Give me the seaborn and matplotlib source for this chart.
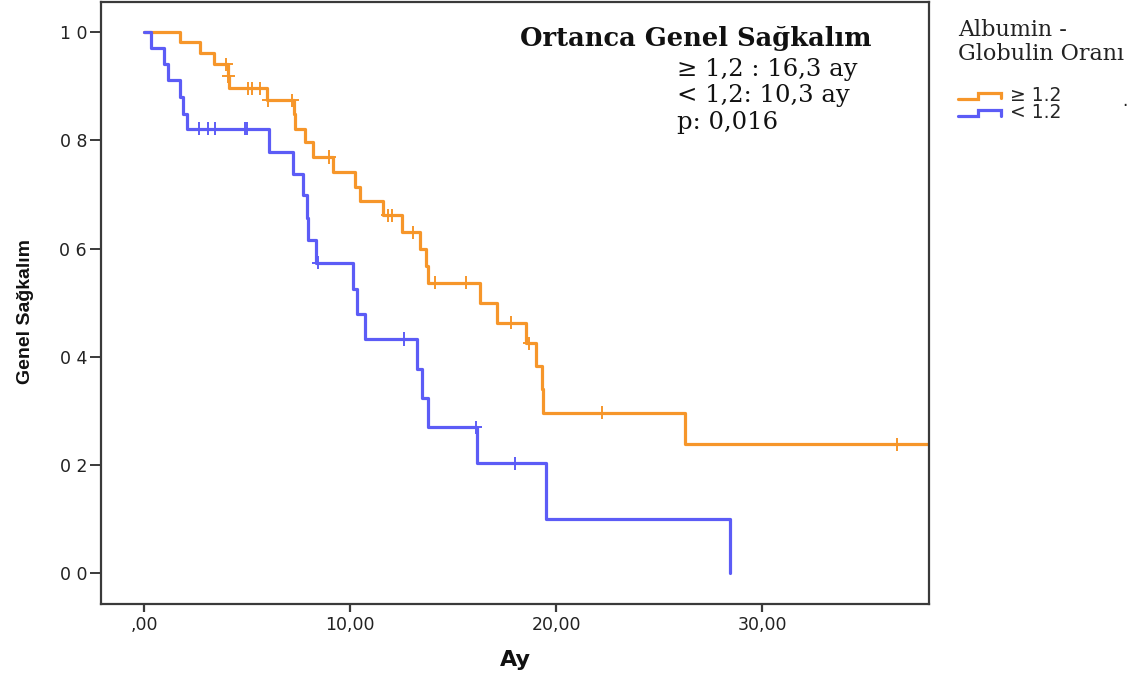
import numpy as np
import pandas as pd
import matplotlib
matplotlib.use("Agg")
import matplotlib.pyplot as plt
import seaborn as sns
from matplotlib.lines import Line2D
from matplotlib.legend_handler import HandlerBase

# ---------------- data ----------------
# Albumin/Globulin ratio >= 1.2 (orange): event times (months) and survival after each step
hi_times = [0.0, 1.75, 2.72, 3.40, 4.05, 4.10, 5.95, 7.28, 7.33, 7.82, 8.20, 9.17,
            10.24, 10.49, 11.60, 12.52, 13.40, 13.69, 13.79, 16.31, 17.14, 18.54,
            19.03, 19.32, 19.37, 26.26, 38.2]
hi_surv = [1.0, 0.982, 0.961, 0.940, 0.918, 0.896, 0.874, 0.848, 0.821, 0.797, 0.769, 0.742,
           0.714, 0.688, 0.661, 0.630, 0.599, 0.568, 0.537, 0.500, 0.463, 0.425,
           0.383, 0.340, 0.297, 0.2385, 0.2385]
hi_censored = [4.00, 4.08, 5.05, 5.24, 5.63, 6.02, 7.18, 8.98, 11.84, 12.04, 13.06,
               14.13, 15.63, 17.82, 18.69, 22.23, 36.55]

# Albumin/Globulin ratio < 1.2 (blue)
lo_times = [0.0, 0.33, 0.97, 1.17, 1.75, 1.89, 2.09, 6.07, 7.23, 7.72, 7.91, 7.96, 8.35,
            10.15, 10.34, 10.73, 13.25, 13.50, 13.79, 16.17, 19.51, 28.45]
lo_surv = [1.0, 0.970, 0.941, 0.912, 0.879, 0.848, 0.821, 0.779, 0.738, 0.698, 0.656, 0.616,
           0.574, 0.526, 0.479, 0.433, 0.377, 0.323, 0.270, 0.203, 0.101, 0.0]
lo_censored = [2.67, 3.11, 3.45, 4.90, 5.00, 8.45, 12.62, 16.10, 18.00]

groups = ["\u2265 1.2", "< 1.2"]
colors = ["#F6962A", "#5C5CF6"]

x_ticks = [0, 10, 20, 30]
x_ticklabels = [",00", "10,00", "20,00", "30,00"]
y_ticks = [0.0, 0.2, 0.4, 0.6, 0.8, 1.0]
y_ticklabels = ["0 0", "0 2", "0 4", "0 6", "0 8", "1 0"]

# ---------------- build frames ----------------
curve = pd.concat([
    pd.DataFrame({"t": hi_times, "s": hi_surv, "grp": groups[0]}),
    pd.DataFrame({"t": lo_times, "s": lo_surv, "grp": groups[1]}),
], ignore_index=True)


def step_value(times, surv, c):
    times = np.asarray(times)
    idx = np.searchsorted(times, c, side="right") - 1
    return np.asarray(surv)[idx]


cens = pd.concat([
    pd.DataFrame({"t": hi_censored, "s": step_value(hi_times, hi_surv, hi_censored), "grp": groups[0]}),
    pd.DataFrame({"t": lo_censored, "s": step_value(lo_times, lo_surv, lo_censored), "grp": groups[1]}),
], ignore_index=True)

# ---------------- figure ----------------
sns.set_theme(style="ticks")
plt.rcParams["font.family"] = ["DejaVu Sans"]

W, H = 1146, 677
fig = plt.figure(figsize=(W / 100, H / 100), dpi=100)
ax = fig.add_axes([101 / W, 1 - 604 / H, (928.5 - 101) / W, (604 - 2) / H])

palette = dict(zip(groups, colors))
sns.lineplot(data=curve, x="t", y="s", hue="grp", hue_order=groups, palette=palette,
             drawstyle="steps-post", estimator=None, sort=False, linewidth=2.3,
             legend=False, ax=ax)
sns.scatterplot(data=cens, x="t", y="s", hue="grp", hue_order=groups, palette=palette,
                marker="+", s=90, linewidth=1.4, legend=False, ax=ax, zorder=3)

ax.set_xlim(-2.09, 38.07)
ax.set_ylim(-0.0567, 1.0554)
ax.set_xticks(x_ticks)
ax.set_xticklabels(x_ticklabels)
ax.set_yticks(y_ticks)
ax.set_yticklabels(y_ticklabels)

spine_c = "#3a3a3a"
for sp in ax.spines.values():
    sp.set_visible(True)
    sp.set_color(spine_c)
    sp.set_linewidth(1.6)
ax.tick_params(axis="y", direction="out", length=8, width=1.4, color=spine_c,
               labelsize=12.5, labelcolor="#222222", pad=2)
ax.tick_params(axis="x", direction="out", length=6, width=1.6, color=spine_c,
               labelsize=12.5, labelcolor="#222222", pad=3)

ax.set_xlabel("")
ax.set_ylabel("")
fig.text(515 / W, 1 - 660 / H, "Ay", fontsize=16, fontweight="bold",
         ha="center", va="center", color="#111111")
fig.text(25 / W, 1 - 312 / H, "Genel Sağkalım", fontsize=14, fontweight="bold",
         family=["Liberation Sans", "DejaVu Sans"], rotation=90,
         ha="center", va="center", color="#111111")

# annotation box text (serif)
serif = ["DejaVu Serif"]
fig.text(520 / W, 1 - 46 / H, "Ortanca Genel Sağkalım", fontsize=18.5, fontweight="bold",
         family=serif, ha="left", va="baseline", color="#111111")
fig.text(677 / W, 1 - 76 / H, "\u2265 1,2 : 16,3 ay", fontsize=17.5, family=serif,
         ha="left", va="baseline", color="#111111")
fig.text(677 / W, 1 - 102 / H, "< 1,2: 10,3 ay", fontsize=17.5, family=serif,
         ha="left", va="baseline", color="#111111")
fig.text(677 / W, 1 - 129 / H, "p: 0,016", fontsize=17.5, family=serif,
         ha="left", va="baseline", color="#111111")

# legend title (serif) and entries
fig.text(958 / W, 1 - 36 / H, "Albumin -", fontsize=16, family=serif,
         ha="left", va="baseline", color="#222222")
fig.text(958 / W, 1 - 60 / H, "Globulin Oranı", fontsize=16, family=serif,
         ha="left", va="baseline", color="#222222")
fig.text(1125 / W, 1 - 106 / H, ".", fontsize=12, ha="center", va="baseline", color="#222222")


class StepHandler(HandlerBase):
    def create_artists(self, legend, orig_handle, xdescent, ydescent, width, height,
                       fontsize, trans):
        x0 = -xdescent
        y_lo = -ydescent + 0.15 * height
        y_hi = -ydescent + 0.62 * height
        xs = [x0, x0 + 0.47 * width, x0 + 0.47 * width, x0 + width, x0 + width]
        ys = [y_lo, y_lo, y_hi, y_hi, y_lo + 0.05 * height]
        ln = Line2D(xs, ys, color=orig_handle.get_color(), linewidth=2.3,
                    solid_joinstyle="miter", transform=trans)
        return [ln]


handles = [Line2D([], [], color=c) for c in colors]
fig.legend(handles, groups, loc="upper left", bbox_to_anchor=(958 / W, 1 - 86 / H),
           frameon=False, prop={"size": 13.5}, handlelength=2.3, handletextpad=0.45,
           labelspacing=-0.1, borderpad=0, borderaxespad=0,
           handler_map={Line2D: StepHandler()})

fig.savefig("out.png", dpi=100)
